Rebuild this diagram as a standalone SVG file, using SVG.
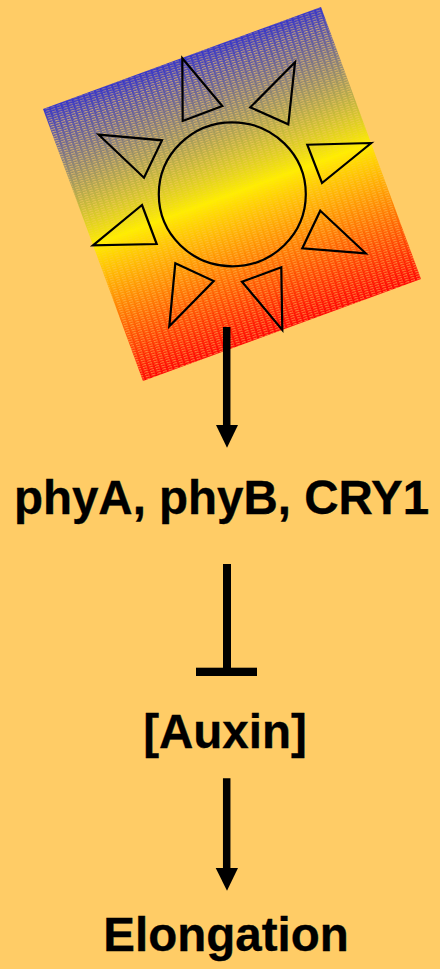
<svg xmlns="http://www.w3.org/2000/svg" width="440" height="969" viewBox="0 0 440 969">
<defs>
<linearGradient id="g" gradientUnits="userSpaceOnUse" x1="182" y1="58" x2="282" y2="330">
<stop offset="0" stop-color="#3333cc"/>
<stop offset="0.5" stop-color="#ffee00"/>
<stop offset="1" stop-color="#ff0000"/>
</linearGradient>
<linearGradient id="fade" gradientUnits="userSpaceOnUse" x1="182" y1="58" x2="282" y2="330">
<stop offset="0" stop-color="#fff" stop-opacity="0.5"/>
<stop offset="0.06" stop-color="#fff" stop-opacity="1"/>
<stop offset="0.4" stop-color="#fff" stop-opacity="0.8"/>
<stop offset="0.5" stop-color="#fff" stop-opacity="0.15"/>
<stop offset="0.6" stop-color="#fff" stop-opacity="0.7"/>
<stop offset="1" stop-color="#fff" stop-opacity="0.8"/>
</linearGradient>
<mask id="fadeMask" maskUnits="userSpaceOnUse" x="0" y="0" width="440" height="400">
<rect x="0" y="0" width="440" height="400" fill="url(#fade)"/>
</mask>
<pattern id="stripes" patternUnits="userSpaceOnUse" width="6" height="2.4" patternTransform="rotate(-17 232 194)">
<rect x="0" y="0" width="4" height="1.1" fill="#ffcc66" opacity="0.7"/>
<rect x="3" y="1.2" width="4" height="0.5" fill="#ffcc66" opacity="0.3"/>
</pattern>
</defs>
<style>
.bg{fill:#ffcc66}
.ray,.disc{fill:none;stroke:#000;stroke-width:2.2}
.lbl{font-family:"Liberation Sans",Arial,sans-serif;font-weight:700;font-size:47.5px;fill:#000;stroke:#000;stroke-width:0.35;text-anchor:middle}
.shaft{stroke:#000;stroke-width:7.5;fill:none}
.head{fill:#000}
</style>
<rect class="bg" width="440" height="969"/>
<g id="sun">
<polygon points="321,7 43,109 143,381 421,279" fill="url(#g)"/>
<polygon points="321,7 43,109 143,381 421,279" fill="url(#stripes)" mask="url(#fadeMask)"/>
<polygon class="ray" points="182.3,58.3 222.3,106 182.7,121"/>
<polygon class="ray" points="295,62.3 288.3,124.3 250.3,107.3"/>
<polygon class="ray" points="371.3,143 307.3,144.7 322,183"/>
<polygon class="ray" points="320.3,210.7 365.7,253.3 302.3,248.3"/>
<polygon class="ray" points="281.3,267.3 282.3,330 242,281.7"/>
<polygon class="ray" points="175.3,263.3 213.7,281 169.3,326.3"/>
<polygon class="ray" points="142,205 156.7,244 93,245.3"/>
<polygon class="ray" points="98.7,134.7 162,140.3 144,177.7"/>
<ellipse class="disc" cx="232.3" cy="194.3" rx="73.5" ry="72"/>
</g>
<g id="connectors">
<line class="shaft" x1="226.7" y1="327" x2="226.7" y2="426"/>
<polygon class="head" points="216,425 238,425 227,447.7"/>
<line class="shaft" x1="227" y1="564" x2="227" y2="670" style="stroke-width:8"/>
<rect x="196" y="667.7" width="61" height="8.3"/>
<line class="shaft" x1="226.7" y1="778.3" x2="226.7" y2="870"/>
<polygon class="head" points="215.7,868 238,868 227,890.7"/>
</g>
<g id="phy"><text class="lbl" x="221.5" y="514">phyA, phyB, CRY1</text></g>
<g id="auxin"><text class="lbl" x="225" y="747.5">[Auxin]</text></g>
<g id="elongation"><text class="lbl" x="226" y="951">Elongation</text></g>
</svg>
